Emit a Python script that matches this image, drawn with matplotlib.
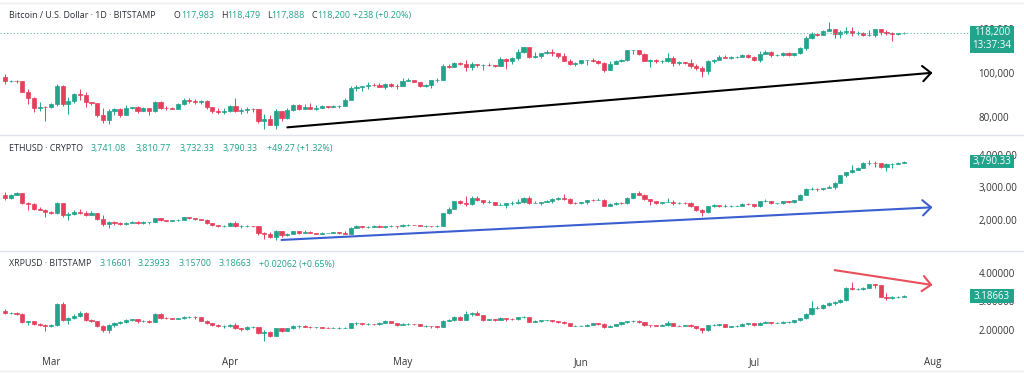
import matplotlib
matplotlib.use("Agg")
import matplotlib.pyplot as plt
from matplotlib.patches import Rectangle
from matplotlib.lines import Line2D
from matplotlib.ticker import FuncFormatter
from matplotlib import transforms
import numpy as np
import pandas as pd

plt.rcParams['font.family'] = ['Open Sans', 'DejaVu Sans']

W, H = 1024, 375
UP = '#22a38c'
DOWN = '#e4405c'
DARK = '#2a2e39'
GRID_LINE = '#e0e3eb'

# daily candles, 21 Feb .. 27 Jul 2025
dates = pd.date_range('2025-02-21', '2025-07-27', freq='D')
months = pd.date_range('2025-03-01', '2025-08-01', freq='MS')

# ---------------- BTCUSD (Bitstamp) ----------------
btc_first_open = 98300
btc_close = [96150, 96550, 96250, 91500, 88700, 84250, 84700, 84350,
             86050, 94250, 86100, 87250, 90600, 89950, 86750, 86150, 80700, 78550,
             82900, 83700, 81100, 83950, 84350, 82600, 84100, 82700, 86900, 84200,
             84050, 83850, 86100, 87500, 87450, 86900, 87200, 84350, 82600, 82400, 82550,
             85150, 82500, 83100, 83850, 83500, 78350, 79150, 76300, 82600, 79600,
             83400, 85250, 83750, 84550, 83650, 84050, 84900, 84500, 85050, 85150,
             87500, 93400, 93700, 93950, 94700, 94650, 93750, 95000, 94250, 94200,
             96500, 96900, 95900, 94300, 94700, 96800, 97000, 103200, 102900, 104600,
             104100, 102800, 104150, 103500, 103700, 103500, 103150, 106500, 105600, 106800,
             109600, 111650, 107300, 107800, 108950, 109450, 108950, 107700, 105600, 103950, 104600,
             105700, 105850, 105400, 104700, 101500, 104300, 105600, 105750, 110250, 110250,
             108650, 105650, 106050, 105450, 105550, 106800, 104550, 104850, 104650, 103300,
             102200, 100950, 105550, 106050, 107350, 106950, 107100, 107350, 108350, 107150,
             105700, 108850, 109600, 107950, 108200, 109200, 108250, 108950, 111300, 115950,
             117550, 117450, 119100, 119850, 117700, 118750, 119300, 117950, 117950, 117300,
             117450, 119950, 118750, 118350, 117650, 117983, 118200]
btc_high = [99500, 96900, 96650, 96500, 92500, 89300, 87000, 85100,
            86500, 95000, 94400, 88900, 91000, 92800, 91200, 86900, 86500, 84000,
            83600, 84300, 84300, 85300, 84700, 85000, 84700, 84100, 87400, 87400,
            84800, 84500, 86200, 88800, 88500, 88300, 87800, 87500, 84600, 83900, 83900,
            85500, 88500, 83900, 84700, 84200, 83800, 81200, 80800, 83500, 82700,
            84300, 85800, 86000, 85800, 86400, 85500, 85500, 85100, 85600, 85400,
            88500, 93900, 94700, 94000, 95800, 95300, 95300, 95600, 95500, 95200,
            97500, 97900, 96900, 96000, 95200, 96900, 97700, 104000, 104300, 104900,
            105000, 105800, 104900, 104300, 104200, 104500, 103700, 107100, 107000, 107300,
            110700, 111900, 111900, 109500, 109300, 110400, 110700, 109300, 108900, 106300, 104900,
            105900, 105900, 106800, 105900, 105000, 105400, 105900, 106300, 110400, 110600,
            110400, 108900, 106200, 106200, 106000, 108900, 107800, 105500, 105200, 106500,
            103900, 103000, 106100, 106300, 108000, 108300, 107800, 107600, 108500, 108800,
            107500, 109800, 110500, 109800, 108400, 109700, 109700, 109200, 111900, 116800,
            118800, 118000, 119500, 123200, 119900, 119700, 120900, 120900, 118900, 118800,
            119700, 120200, 120100, 119500, 118400, 118300, 118479]
btc_low = [94850, 95700, 95250, 91350, 86050, 82250, 82800, 78200,
           83900, 85100, 85100, 81500, 86300, 87800, 84700, 85300, 80000, 77400,
           76600, 80800, 79900, 80800, 83600, 82000, 82500, 81100, 82400, 83700,
           83200, 83700, 83800, 85600, 86300, 85900, 85900, 83600, 81600, 81400, 81300,
           82400, 82300, 81200, 81700, 82400, 77200, 74500, 76200, 74600, 78400,
           78900, 82800, 83000, 83700, 83600, 83100, 83900, 84200, 84400, 83900,
           85100, 87500, 91900, 91700, 92900, 93900, 93600, 92900, 93800, 92900,
           94100, 96300, 95700, 93600, 93500, 93400, 95800, 96900, 102300, 102800,
           103500, 100800, 101500, 102600, 101400, 103100, 102600, 103100, 102000, 104200,
           106100, 109300, 106800, 106900, 106600, 108700, 107600, 106700, 105300, 103600, 103100,
           103900, 103800, 105200, 104200, 100400, 101200, 103900, 105000, 105300, 108400,
           108100, 105400, 102700, 104500, 104500, 104900, 103400, 103500, 103900, 102300,
           101300, 98200, 99600, 104600, 105900, 106600, 106400, 106800, 107200, 106700,
           105300, 105100, 108600, 107300, 107800, 107800, 107500, 107500, 108400, 110600,
           115300, 116900, 117300, 118900, 115800, 115900, 117800, 116800, 117300, 116600,
           116600, 116200, 117400, 117300, 114700, 117200, 117888]

# ---------------- ETHUSD ----------------
eth_first_open = 2755
eth_close = [2660, 2760, 2820, 2510, 2490, 2330, 2310, 2240,
             2220, 2520, 2150, 2170, 2240, 2200, 2140, 2200, 2020, 1860,
             1920, 1910, 1860, 1910, 1935, 1890, 1925, 1930, 2055, 1980,
             1965, 1980, 2005, 2080, 2065, 2010, 2000, 1895, 1830, 1805, 1820,
             1905, 1795, 1815, 1815, 1805, 1580, 1555, 1470, 1670, 1520,
             1565, 1645, 1595, 1625, 1585, 1575, 1585, 1590, 1615, 1585,
             1575, 1755, 1795, 1770, 1785, 1815, 1790, 1800, 1800, 1795,
             1840, 1840, 1835, 1810, 1815, 1810, 1810, 2210, 2345, 2585,
             2515, 2490, 2680, 2610, 2540, 2545, 2470, 2470, 2520, 2525,
             2550, 2665, 2525, 2530, 2545, 2565, 2655, 2680, 2630, 2530, 2525,
             2540, 2610, 2595, 2610, 2430, 2480, 2525, 2510, 2680, 2820,
             2770, 2645, 2580, 2525, 2545, 2550, 2510, 2525, 2520, 2410,
             2300, 2230, 2410, 2450, 2420, 2420, 2420, 2435, 2500, 2485,
             2410, 2570, 2590, 2505, 2515, 2570, 2540, 2615, 2770, 2955,
             2960, 2945, 2970, 3010, 3140, 3370, 3475, 3545, 3590, 3755,
             3760, 3745, 3630, 3710, 3720, 3741.08, 3790.33]
eth_high = [2850, 2780, 2850, 2830, 2560, 2520, 2400, 2340,
            2280, 2550, 2530, 2230, 2290, 2320, 2270, 2260, 2220, 2150,
            1950, 1960, 1920, 1940, 1960, 1950, 1950, 1935, 2070, 2060,
            2000, 2000, 2010, 2100, 2080, 2070, 2040, 2010, 1900, 1840, 1850,
            1920, 1950, 1830, 1830, 1820, 1810, 1640, 1610, 1690, 1670,
            1580, 1650, 1650, 1680, 1660, 1600, 1610, 1600, 1620, 1630,
            1660, 1770, 1830, 1800, 1810, 1830, 1830, 1820, 1830, 1810,
            1870, 1860, 1850, 1840, 1830, 1820, 1830, 2220, 2400, 2590,
            2600, 2730, 2720, 2720, 2610, 2620, 2560, 2510, 2530, 2580,
            2630, 2710, 2730, 2570, 2560, 2600, 2680, 2710, 2790, 2660, 2550,
            2550, 2620, 2640, 2670, 2640, 2530, 2540, 2540, 2690, 2830,
            2880, 2780, 2650, 2580, 2550, 2680, 2610, 2540, 2540, 2560,
            2430, 2320, 2420, 2480, 2470, 2480, 2440, 2450, 2510, 2520,
            2490, 2580, 2640, 2590, 2520, 2580, 2590, 2620, 2790, 2980,
            3020, 2970, 2990, 3080, 3160, 3390, 3480, 3680, 3610, 3780,
            3850, 3800, 3760, 3750, 3750, 3780, 3810.77]
eth_low = [2610, 2650, 2750, 2490, 2300, 2300, 2290, 2080,
           2170, 2170, 2100, 1990, 2150, 2170, 2110, 2150, 2000, 1810,
           1760, 1850, 1830, 1850, 1900, 1860, 1880, 1880, 1920, 1960,
           1950, 1960, 1970, 2000, 2040, 2000, 1990, 1880, 1810, 1780, 1780,
           1810, 1790, 1760, 1770, 1780, 1540, 1410, 1450, 1390, 1480,
           1500, 1550, 1570, 1600, 1580, 1560, 1560, 1580, 1585, 1570,
           1570, 1570, 1740, 1740, 1740, 1780, 1780, 1760, 1790, 1760,
           1790, 1820, 1830, 1800, 1790, 1780, 1790, 1800, 2180, 2340,
           2480, 2420, 2460, 2580, 2480, 2520, 2450, 2460, 2360, 2470,
           2500, 2530, 2500, 2510, 2460, 2540, 2530, 2610, 2620, 2500, 2500,
           2480, 2500, 2590, 2600, 2410, 2420, 2470, 2480, 2480, 2680,
           2750, 2620, 2440, 2500, 2500, 2540, 2470, 2490, 2500, 2390,
           2280, 2110, 2200, 2390, 2400, 2400, 2390, 2410, 2420, 2470,
           2400, 2400, 2560, 2490, 2490, 2500, 2520, 2520, 2610, 2760,
           2930, 2900, 2930, 2990, 2950, 3120, 3330, 3450, 3520, 3590,
           3700, 3620, 3590, 3510, 3580, 3710, 3732.33]

# ---------------- XRPUSD (Bitstamp) ----------------
xrp_first_open = 2.68
xrp_close = [2.58, 2.59, 2.56, 2.28, 2.30, 2.21, 2.18, 2.16,
             2.17, 2.92, 2.34, 2.42, 2.49, 2.61, 2.36, 2.30, 2.14, 2.01,
             2.17, 2.24, 2.27, 2.34, 2.37, 2.31, 2.33, 2.29, 2.55, 2.42,
             2.41, 2.39, 2.41, 2.46, 2.46, 2.44, 2.33, 2.25, 2.18, 2.14, 2.14,
             2.17, 2.06, 2.05, 2.10, 2.11, 1.90, 1.93, 1.80, 2.06, 1.97,
             2.06, 2.14, 2.14, 2.12, 2.10, 2.10, 2.09, 2.08, 2.08, 2.09,
             2.09, 2.23, 2.24, 2.21, 2.21, 2.20, 2.26, 2.32, 2.24, 2.19,
             2.21, 2.21, 2.20, 2.15, 2.15, 2.13, 2.11, 2.32, 2.34, 2.46,
             2.36, 2.56, 2.59, 2.53, 2.36, 2.37, 2.36, 2.42, 2.40, 2.38,
             2.44, 2.47, 2.28, 2.33, 2.34, 2.34, 2.30, 2.27, 2.26, 2.15, 2.16,
             2.16, 2.19, 2.23, 2.21, 2.12, 2.16, 2.20, 2.28, 2.31, 2.32,
             2.27, 2.18, 2.17, 2.15, 2.18, 2.23, 2.16, 2.15, 2.17, 2.13,
             2.06, 1.99, 2.17, 2.18, 2.20, 2.12, 2.13, 2.15, 2.21, 2.23,
             2.18, 2.26, 2.28, 2.25, 2.25, 2.28, 2.28, 2.34, 2.41, 2.55,
             2.76, 2.78, 2.87, 2.96, 2.98, 3.06, 3.47, 3.42, 3.42, 3.46,
             3.59, 3.56, 3.17, 3.12, 3.14, 3.16601, 3.18663]
xrp_high = [2.72, 2.63, 2.62, 2.59, 2.33, 2.33, 2.25, 2.20,
            2.21, 2.95, 2.99, 2.45, 2.57, 2.66, 2.64, 2.38, 2.33, 2.18,
            2.20, 2.27, 2.31, 2.37, 2.39, 2.39, 2.36, 2.34, 2.58, 2.59,
            2.45, 2.42, 2.43, 2.50, 2.49, 2.48, 2.45, 2.35, 2.26, 2.20, 2.18,
            2.20, 2.25, 2.08, 2.14, 2.13, 2.12, 1.99, 1.98, 2.09, 2.07,
            2.08, 2.17, 2.17, 2.19, 2.16, 2.12, 2.11, 2.10, 2.10, 2.10,
            2.12, 2.25, 2.29, 2.24, 2.24, 2.22, 2.28, 2.35, 2.33, 2.26,
            2.24, 2.24, 2.22, 2.21, 2.17, 2.16, 2.15, 2.34, 2.40, 2.49,
            2.48, 2.65, 2.62, 2.65, 2.54, 2.40, 2.38, 2.45, 2.42, 2.42,
            2.46, 2.49, 2.47, 2.35, 2.35, 2.36, 2.35, 2.31, 2.30, 2.26, 2.18,
            2.18, 2.21, 2.25, 2.24, 2.23, 2.19, 2.21, 2.29, 2.33, 2.34,
            2.34, 2.28, 2.19, 2.18, 2.20, 2.33, 2.24, 2.18, 2.19, 2.20,
            2.14, 2.07, 2.19, 2.21, 2.22, 2.21, 2.15, 2.17, 2.23, 2.25,
            2.24, 2.28, 2.31, 2.29, 2.27, 2.30, 2.31, 2.36, 2.43, 2.58,
            3.00, 2.85, 2.90, 2.99, 3.03, 3.09, 3.50, 3.66, 3.47, 3.50,
            3.62, 3.60, 3.58, 3.28, 3.18, 3.19, 3.23933]
xrp_low = [2.55, 2.56, 2.54, 2.25, 2.18, 2.17, 2.14, 1.98,
           2.12, 2.15, 2.30, 2.22, 2.40, 2.46, 2.30, 2.27, 2.12, 1.95,
           1.90, 2.12, 2.20, 2.25, 2.32, 2.26, 2.29, 2.25, 2.27, 2.40,
           2.37, 2.37, 2.37, 2.40, 2.43, 2.40, 2.31, 2.21, 2.15, 2.11, 2.09,
           2.11, 2.03, 1.97, 2.00, 2.08, 1.87, 1.62, 1.77, 1.78, 1.94,
           1.96, 2.04, 2.09, 2.10, 2.08, 2.06, 2.07, 2.06, 2.06, 2.05,
           2.06, 2.08, 2.19, 2.18, 2.17, 2.18, 2.19, 2.24, 2.23, 2.16,
           2.18, 2.19, 2.18, 2.13, 2.12, 2.09, 2.09, 2.11, 2.31, 2.33,
           2.34, 2.34, 2.49, 2.51, 2.33, 2.34, 2.31, 2.35, 2.30, 2.35,
           2.36, 2.42, 2.27, 2.27, 2.29, 2.31, 2.28, 2.24, 2.22, 2.13, 2.14,
           2.13, 2.14, 2.19, 2.19, 2.08, 2.10, 2.15, 2.19, 2.26, 2.28,
           2.25, 2.16, 2.10, 2.13, 2.14, 2.15, 2.14, 2.13, 2.14, 2.10,
           2.03, 1.91, 1.96, 2.15, 2.16, 2.10, 2.10, 2.12, 2.14, 2.18,
           2.15, 2.17, 2.24, 2.22, 2.23, 2.23, 2.25, 2.26, 2.33, 2.40,
           2.54, 2.72, 2.75, 2.84, 2.89, 2.94, 3.00, 3.38, 3.38, 3.40,
           3.45, 3.46, 3.14, 3.05, 3.08, 3.13, 3.15700]

# hand-drawn trend arrows (date, price)
btc_trend = [('2025-04-11', 75300), ('2025-08-01', 100100)]
eth_trend = [('2025-04-10', 1380), ('2025-08-01', 2385)]
xrp_trend = [('2025-07-15', 4.09), ('2025-08-01', 3.57)]

# header texts
btc_head = [(9, 'Bitcoin / U.S. Dollar · 1D · BITSTAMP', DARK),
            (174, 'O', DARK), (None, '117,983', UP),
            (220.7, 'H', DARK), (None, '118,479', UP),
            (266.7, 'L', DARK), (None, '117,888', UP),
            (311.7, 'C', DARK), (None, '118,200', UP),
            (353, '+238 (+0.20%)', UP)]
eth_head = [(9, 'ETHUSD · CRYPTO', DARK), (90.7, '3,741.08', UP), (136, '3,810.77', UP),
            (180, '3,732.33', UP), (222.7, '3,790.33', UP), (266.7, '+49.27 (+1.32%)', UP)]
xrp_head = [(9, 'XRPUSD · BITSTAMP', DARK), (99.3, '3.16601', UP), (137.7, '3.23933', UP),
            (179, '3.15700', UP), (219, '3.18663', UP), (258.7, '+0.02062 (+0.65%)', UP)]

xs = np.arange(len(dates))


def pos(d):
    return (pd.Timestamp(d) - dates[0]).days


def fy(px):
    return 1 - px / H


def draw_candles(ax, first_open, close, high, low):
    close = np.asarray(close, float)
    opn = np.concatenate([[first_open], close[:-1]])
    high = np.maximum(np.asarray(high, float), np.maximum(opn, close))
    low = np.minimum(np.asarray(low, float), np.minimum(opn, close))
    cols = np.where(close >= opn, UP, DOWN)
    ax.vlines(xs, low, high, colors=cols, lw=0.7, zorder=2)
    ax.bar(xs, np.abs(close - opn), bottom=np.minimum(opn, close), width=0.72,
           color=cols, edgecolor=cols, linewidth=0.5, zorder=3)


fig = plt.figure(figsize=(W / 100, H / 100), dpi=100)
fig.patch.set_facecolor('white')

plot_w = 955 / W
ax1 = fig.add_axes([0, fy(135), plot_w, (135 - 3) / H])
ax2 = fig.add_axes([0, fy(250), plot_w, (250 - 136) / H])
ax3 = fig.add_axes([0, fy(347), plot_w, (347 - 251) / H])

panels = [
    (ax1, btc_first_open, btc_close, btc_high, btc_low, (71820, 131800),
     [80000, 100000, 120000], lambda v, p: f'{v:,.0f}', btc_trend, 'black'),
    (ax2, eth_first_open, eth_close, eth_high, eth_low, (1071, 4578),
     [2000, 3000, 4000], lambda v, p: f'{v:,.2f}', eth_trend, '#3b5fd0'),
    (ax3, xrp_first_open, xrp_close, xrp_high, xrp_low, (1.411, 4.756),
     [2, 3, 4], lambda v, p: f'{v:.5f}', xrp_trend, '#e8505b'),
]

for ax, fo, c, hi, lo, ylim, yt, fmt, trend, tcol in panels:
    draw_candles(ax, fo, c, hi, lo)
    ax.set_xlim(-0.87, 164.9)
    ax.set_ylim(*ylim)
    for s in ax.spines.values():
        s.set_visible(False)
    ax.set_yticks(yt)
    ax.yaxis.set_major_formatter(FuncFormatter(fmt))
    ax.tick_params(axis='y', length=0, pad=17, labelleft=False, labelright=True,
                   labelsize=7, labelcolor='#333333')
    ax.tick_params(axis='x', length=0)
    ax.set_xticks([])
    (d0, p0), (d1, p1) = trend
    ax.annotate('', xy=(pos(d1), p1), xytext=(pos(d0), p0), annotation_clip=False,
                arrowprops=dict(arrowstyle='->,head_length=0.6,head_width=0.55',
                                color=tcol, lw=1.5, shrinkA=0, shrinkB=0))

# month labels on the bottom pane
ax3.set_xticks([pos(m) for m in months])
ax3.set_xticklabels([m.strftime('%b') for m in months])
ax3.tick_params(axis='x', length=0, pad=7, labelsize=7, labelcolor='#333333')

# last price dotted line on BTC pane, running up to the price tag
blend = transforms.blended_transform_factory(fig.transFigure, ax1.transData)
fig.add_artist(Line2D([0, 970 / W], [btc_close[-1], btc_close[-1]], transform=blend,
                      color='#5fb8a8', lw=0.8, ls=(0, (1, 2)), zorder=1))

# pane separators
for ypx, col in [(2.5, '#eceef2'), (135.5, GRID_LINE), (250.5, GRID_LINE), (370.5, '#eceef2')]:
    fig.add_artist(Line2D([0, 1], [fy(ypx), fy(ypx)], transform=fig.transFigure,
                          color=col, lw=1.0))

# header lines
renderer = fig.canvas.get_renderer()


def header(y_px, pieces):
    xf = 0
    for xp, txt, col in pieces:
        if xp is not None:
            xf = xp / W
        t = fig.text(xf, fy(y_px), txt, color=col, fontsize=6.4, va='center', ha='left')
        xf = t.get_window_extent(renderer).x1 / W


header(15.5, btc_head)
header(148, eth_head)
header(264, xrp_head)


# price tags on the scale
def price_fy(ax, p):
    b = ax.get_position()
    y0, y1 = ax.get_ylim()
    return b.y0 + (p - y0) / (y1 - y0) * b.height


def tag(ax, price, lines):
    yc = price_fy(ax, price)
    h = 13.5 * len(lines) / H
    top = yc + 6.75 / H
    fig.add_artist(Rectangle((970 / W, top - h), 44 / W, h, transform=fig.transFigure,
                             facecolor=UP, edgecolor='none', zorder=5))
    for i, s in enumerate(lines):
        fig.text(992 / W, yc - i * 13 / H, s, color='white', fontsize=7,
                 ha='center', va='center', zorder=6)


tag(ax1, btc_close[-1], ['118,200', '13:37:34'])
tag(ax2, eth_close[-1], ['3,790.33'])
tag(ax3, xrp_close[-1], ['3.18663'])

fig.savefig('out.png', dpi=100)
